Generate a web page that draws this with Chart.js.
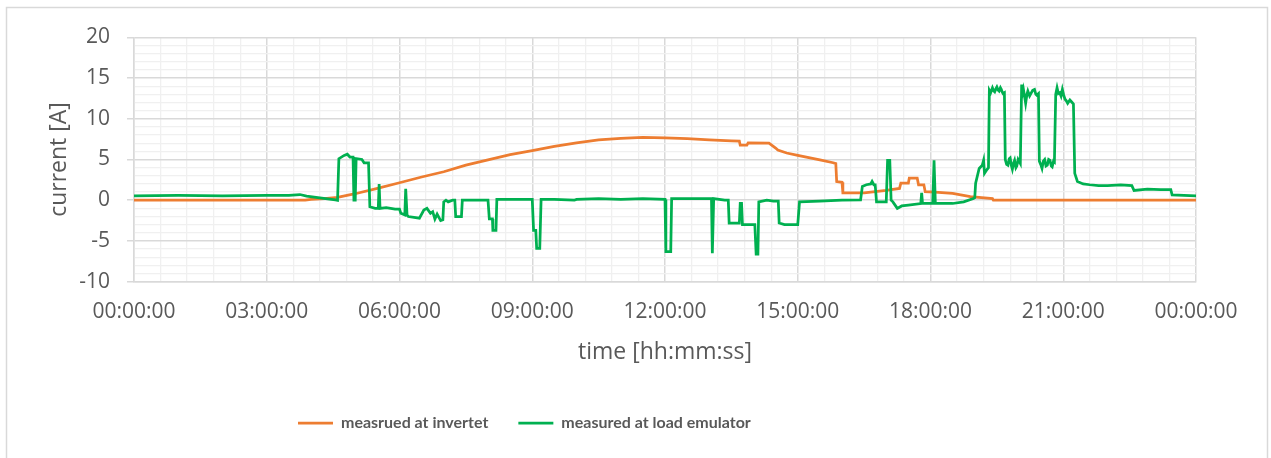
<!DOCTYPE html>
<html>
<head>
<meta charset="utf-8">
<script src="https://cdn.jsdelivr.net/npm/chart.js@4.4.1/dist/chart.umd.min.js"></script>
<style>
  html, body { margin: 0; padding: 0; background: #ffffff; }
  #wrap { width: 1271px; height: 458px; }
</style>
</head>
<body>
<div id="wrap"><canvas id="c" width="1271" height="458"></canvas></div>
<script>
// ---------- data (time in hours of the day, current in A) ----------
const seriesNames = ['measrued at invertet', 'measured at load emulator'];

const invTime = [0, 3.87, 4.0, 4.3, 4.6, 5.0, 5.5, 6.0, 6.5, 7.0, 7.5, 8.0, 8.5, 9.0, 9.5, 10.0, 10.5, 11.0, 11.5, 12.0, 12.5, 13.0, 13.5, 13.68, 13.7, 13.85, 13.88, 14.35, 14.5, 14.55, 14.75, 15.0, 15.5, 15.8, 15.86, 15.88, 16.0, 16.02, 16.5, 17.0, 17.3, 17.33, 17.5, 17.52, 17.7, 17.73, 17.85, 17.88, 18.1, 18.5, 18.9, 19.4, 19.42, 24];
const invCurrent = [0, 0, 0.1, 0.2, 0.35, 0.8, 1.45, 2.15, 2.85, 3.5, 4.3, 4.95, 5.6, 6.1, 6.6, 7.05, 7.4, 7.6, 7.72, 7.65, 7.55, 7.42, 7.3, 7.25, 6.75, 6.75, 7.05, 7.0, 6.4, 6.15, 5.8, 5.5, 4.95, 4.6, 4.5, 2.3, 2.2, 0.9, 0.9, 1.2, 1.45, 2.1, 2.1, 2.7, 2.7, 1.9, 1.9, 1.05, 1.0, 0.85, 0.45, 0.2, 0, 0];

const loadTime = [0, 1.0, 2.0, 3.0, 3.5, 3.75, 3.9, 4.2, 4.55, 4.6, 4.63, 4.75, 4.82, 4.88, 4.95, 4.97, 5.0, 5.02, 5.15, 5.2, 5.3, 5.33, 5.45, 5.52, 5.54, 5.56, 5.7, 5.9, 6.0, 6.03, 6.12, 6.14, 6.17, 6.2, 6.45, 6.55, 6.62, 6.7, 6.75, 6.8, 6.85, 6.93, 6.98, 7.0, 7.05, 7.1, 7.2, 7.25, 7.27, 7.4, 7.42, 8.0, 8.03, 8.1, 8.11, 8.18, 8.2, 9.0, 9.03, 9.08, 9.1, 9.17, 9.2, 9.5, 9.95, 10.0, 10.5, 11.0, 11.5, 12.0, 12.02, 12.13, 12.15, 12.6, 13.05, 13.07, 13.1, 13.35, 13.43, 13.45, 13.68, 13.7, 13.73, 13.75, 14.03, 14.06, 14.1, 14.12, 14.3, 14.45, 14.56, 14.58, 14.7, 15.0, 15.04, 15.5, 16.0, 16.42, 16.46, 16.55, 16.65, 16.68, 16.72, 16.75, 16.78, 17.0, 17.03, 17.08, 17.11, 17.15, 17.25, 17.35, 17.5, 17.78, 17.8, 17.82, 18.05, 18.08, 18.11, 18.5, 18.75, 18.97, 19.0, 19.02, 19.1, 19.17, 19.2, 19.22, 19.28, 19.31, 19.33, 19.36, 19.4, 19.43, 19.45, 19.48, 19.5, 19.53, 19.55, 19.58, 19.6, 19.62, 19.64, 19.67, 19.69, 19.72, 19.75, 19.78, 19.8, 19.83, 19.85, 19.88, 19.9, 19.93, 19.95, 19.98, 20.0, 20.03, 20.06, 20.08, 20.1, 20.13, 20.15, 20.18, 20.2, 20.24, 20.28, 20.31, 20.35, 20.38, 20.4, 20.44, 20.46, 20.49, 20.52, 20.55, 20.58, 20.61, 20.64, 20.67, 20.7, 20.73, 20.75, 20.78, 20.8, 20.83, 20.86, 20.89, 20.92, 20.95, 20.98, 21.01, 21.04, 21.07, 21.1, 21.15, 21.2, 21.23, 21.26, 21.32, 21.45, 21.6, 21.8, 22.0, 22.3, 22.55, 22.6, 22.9, 23.2, 23.43, 23.46, 24.0];
const loadCurrent = [0.55, 0.6, 0.55, 0.6, 0.6, 0.7, 0.5, 0.3, 0.05, 0.0, 5.1, 5.5, 5.65, 5.3, 5.3, 0.0, 0.0, 5.1, 5.0, 4.6, 4.6, -0.8, -1.0, -1.0, 2.0, -1.0, -0.9, -1.1, -1.1, -1.6, -1.8, 1.4, -1.8, -2.0, -2.2, -1.2, -1.0, -1.6, -1.4, -2.3, -1.7, -2.5, -2.4, -0.2, 0.0, -0.2, 0.0, 0.0, -2.0, -2.0, 0.0, 0.0, -2.3, -2.3, -3.7, -3.7, 0.1, 0.1, -3.7, -3.7, -5.9, -5.9, 0.1, 0.1, 0.0, 0.1, 0.2, 0.1, 0.2, 0.1, -6.3, -6.3, 0.2, 0.2, 0.2, -6.5, 0.2, 0.0, 0.0, -2.8, -2.8, -0.4, -0.4, -3.0, -3.0, -6.6, -6.6, -0.2, 0.0, -0.1, -0.1, -2.8, -3.0, -3.0, -0.2, -0.1, 0.0, 0.05, 1.7, 1.9, 2.0, 2.3, 1.9, 1.9, -0.2, -0.2, 4.9, 4.9, 0.0, -0.2, -1.0, -0.7, -0.6, -0.4, 0.9, -0.4, -0.4, 4.9, -0.4, -0.4, -0.2, 0.2, 0.3, 2.1, 3.9, 4.3, 4.9, 3.3, 3.8, 4.0, 13.5, 13.2, 13.8, 13.4, 13.3, 13.7, 13.9, 13.5, 13.4, 13.8, 13.6, 13.3, 13.1, 13.2, 5.0, 4.4, 4.3, 5.1, 5.2, 4.2, 3.8, 4.6, 4.9, 4.0, 4.2, 5.0, 4.8, 4.5, 14.2, 13.1, 13.6, 12.6, 11.9, 13.0, 13.4, 12.8, 13.2, 13.5, 13.6, 13.0, 12.9, 13.1, 4.8, 4.4, 3.9, 4.8, 5.0, 4.2, 4.3, 5.0, 4.9, 4.2, 4.1, 4.8, 4.7, 13.0, 13.8, 13.1, 13.2, 12.8, 13.6, 12.9, 12.4, 12.2, 11.9, 12.3, 12.0, 11.8, 3.3, 2.3, 2.0, 1.9, 1.8, 1.8, 1.9, 1.8, 1.2, 1.35, 1.3, 1.3, 0.65, 0.55];

const xMin = 0, xMax = 24, xMinorStep = 0.6, xMajorStep = 3;
const yMin = -10, yMax = 20, yMinorStep = 1, yMajorStep = 5;
const xTitle = 'time [hh:mm:ss]';
const yTitle = 'current [A]';

// ---------- helpers ----------
function isMajor(v, step) { return Math.abs(v / step - Math.round(v / step)) < 1e-6; }
function pad2(n) { return (n < 10 ? '0' : '') + n; }
function hhmmss(v) {
  const totalSec = Math.round(v * 3600) % 86400;
  const h = Math.floor(totalSec / 3600), m = Math.floor((totalSec % 3600) / 60), s = totalSec % 60;
  return pad2(h) + ':' + pad2(m) + ':' + pad2(s);
}
function toPoints(xs, ys) { return xs.map((x, i) => ({ x: x, y: ys[i] })); }

const TEXT = '#595959';
const MAJOR = '#D9D9D9';
const MINOR = '#F0F0F0';
const FONT = "'Open Sans', 'DejaVu Sans', sans-serif";

const framePlugin = {
  id: 'frame',
  beforeDraw(chart) {
    const ctx = chart.ctx;
    ctx.save();
    ctx.fillStyle = '#ffffff';
    ctx.fillRect(0, 0, chart.width, chart.height);
    ctx.strokeStyle = '#D9D9D9';
    ctx.lineWidth = 1.5;
    ctx.strokeRect(6.5, 7.5, 1261, 470);
    ctx.restore();
  },
  afterLayout(chart) {
    const lg = chart.legend;
    if (!lg || !lg.lineWidths) return;
    const pad = lg.options.labels.padding;
    const startX = (lg.left + pad + lg.right - lg.lineWidths[0]) / 2;
    const dx = 298 - startX;
    lg.left += dx; lg.right += dx;
  }
};

new Chart(document.getElementById('c'), {
  type: 'line',
  data: {
    datasets: [
      {
        label: seriesNames[0],
        data: toPoints(invTime, invCurrent),
        borderColor: '#ED7D31',
        backgroundColor: '#ED7D31',
        borderWidth: 2.75,
        pointRadius: 0,
        tension: 0,
        order: 1
      },
      {
        label: seriesNames[1],
        data: toPoints(loadTime, loadCurrent),
        borderColor: '#00B050',
        backgroundColor: '#00B050',
        borderWidth: 2.75,
        pointRadius: 0,
        tension: 0,
        order: 0
      }
    ]
  },
  options: {
    responsive: false,
    animation: false,
    devicePixelRatio: 1,
    layout: { padding: { top: 37.3, right: 75, bottom: 17, left: 0 } },
    plugins: {
      tooltip: { enabled: false },
      legend: {
        position: 'bottom',
        labels: {
          usePointStyle: true,
          pointStyle: 'line',
          pointStyleWidth: 35,
          padding: 30,
          color: TEXT,
          sort: (a, b) => a.datasetIndex - b.datasetIndex,
          font: { family: "Lato, 'Open Sans', sans-serif", size: 16, weight: 'bold' }
        }
      }
    },
    scales: {
      x: {
        type: 'linear',
        min: xMin, max: xMax,
        afterFit: s => { s.height = 103.3; },
        ticks: {
          stepSize: xMinorStep,
          autoSkip: false,
          maxRotation: 0,
          minRotation: 0,
          padding: 18,
          color: TEXT,
          font: { family: FONT, size: 21 },
          callback: v => isMajor(v, xMajorStep) ? hhmmss(v) : ''
        },
        grid: {
          drawTicks: false,
          color: c => isMajor(c.tick.value, xMajorStep) ? MAJOR : MINOR,
          lineWidth: c => isMajor(c.tick.value, xMajorStep) ? 1.5 : 1.3
        },
        border: { display: true, color: MAJOR, width: 1.5 },
        title: {
          display: true, text: xTitle, color: TEXT,
          font: { family: FONT, size: 23 },
          padding: { top: 0, bottom: 19 }
        }
      },
      y: {
        min: yMin, max: yMax,
        afterFit: s => { s.width = 134; },
        ticks: {
          stepSize: yMinorStep,
          autoSkip: false,
          padding: 17,
          color: TEXT,
          font: { family: FONT, size: 21 },
          callback: v => isMajor(v, yMajorStep) ? String(v) : ''
        },
        grid: {
          tickLength: 7,
          tickColor: c => isMajor(c.tick.value, yMajorStep) ? MAJOR : 'rgba(0,0,0,0)',
          color: c => isMajor(c.tick.value, yMajorStep) ? MAJOR : MINOR,
          lineWidth: c => isMajor(c.tick.value, yMajorStep) ? 1.5 : 1.3
        },
        border: { display: true, color: MAJOR, width: 1.5 },
        title: {
          display: true, text: yTitle, color: TEXT,
          font: { family: FONT, size: 23 },
          padding: { top: 46, bottom: 0 }
        }
      }
    }
  },
  plugins: [framePlugin]
});
</script>
</body>
</html>
